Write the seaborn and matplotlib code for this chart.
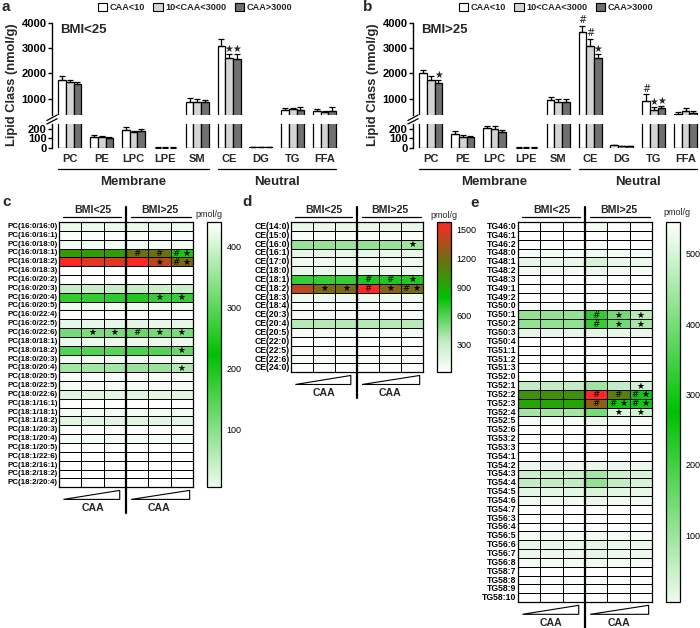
import numpy as np
import pandas as pd
import seaborn as sns
import matplotlib.pyplot as plt
import matplotlib.transforms as mtransforms
from matplotlib.colors import LinearSegmentedColormap, Normalize
from matplotlib.cm import ScalarMappable
from matplotlib.patches import Polygon

# ---- bar panels (a, b) ----
classes = ['PC', 'PE', 'LPC', 'LPE', 'SM', 'CE', 'DG', 'TG', 'FFA']
groups = ['CAA<10', '10<CAA<3000', 'CAA>3000']

a_low = [1730, 117, 190, 5, 880, 3090, 10, 550, 510]
a_mid = [1650, 117, 167, 5, 880, 2630, 10, 580, 450]
a_high = [1580, 100, 177, 5, 850, 2590, 10, 540, 490]
a_low_err = [160, 23, 33, 2, 130, 290, 3, 70, 80]
a_mid_err = [70, 10, 15, 2, 90, 130, 3, 60, 40]
a_high_err = [90, 10, 23, 2, 90, 170, 3, 120, 170]
a_marks = [(5, 1, '★'), (5, 2, '★')]

b_low = [2000, 150, 207, 5, 950, 3640, 27, 920, 395]
b_mid = [1740, 117, 200, 5, 860, 3090, 17, 550, 490]
b_high = [1630, 117, 163, 5, 880, 2630, 17, 620, 420]
b_low_err = [130, 23, 26, 2, 130, 260, 5, 260, 75]
b_mid_err = [160, 23, 33, 2, 140, 290, 3, 110, 130]
b_high_err = [110, 12, 20, 2, 120, 130, 3, 90, 80]
b_marks = [(0, 2, '★'), (5, 0, '#'), (5, 1, '#'), (5, 2, '★'),
           (7, 0, '#'), (7, 1, '★'), (7, 2, '★')]

# ---- heatmap panel c (PC species) ----
c_rows = ['PC(16:0/16:0)', 'PC(16:0/16:1)', 'PC(16:0/18:0)', 'PC(16:0/18:1)',
          'PC(16:0/18:2)', 'PC(16:0/18:3)', 'PC(16:0/20:2)', 'PC(16:0/20:3)',
          'PC(16:0/20:4)', 'PC(16:0/20:5)', 'PC(16:0/22:4)', 'PC(16:0/22:5)',
          'PC(16:0/22:6)', 'PC(18:0/18:1)', 'PC(18:0/18:2)', 'PC(18:0/20:3)',
          'PC(18:0/20:4)', 'PC(18:0/20:5)', 'PC(18:0/22:5)', 'PC(18:0/22:6)',
          'PC(18:1/16:1)', 'PC(18:1/18:1)', 'PC(18:1/18:2)', 'PC(18:1/20:3)',
          'PC(18:1/20:4)', 'PC(18:1/20:5)', 'PC(18:1/22:6)', 'PC(18:2/16:1)',
          'PC(18:2/18:2)', 'PC(18:2/20:4)']
c_vals = [
    [35, 35, 35, 35, 35, 30],
    [12, 12, 12, 12, 12, 12],
    [30, 30, 30, 30, 30, 28],
    [310, 310, 305, 375, 370, 235],
    [500, 475, 475, 500, 440, 385],
    [5, 5, 5, 5, 5, 5],
    [5, 5, 5, 5, 5, 5],
    [100, 100, 100, 100, 95, 95],
    [215, 215, 218, 228, 212, 210],
    [30, 30, 30, 35, 30, 30],
    [10, 10, 10, 10, 10, 10],
    [45, 45, 45, 50, 45, 45],
    [165, 160, 160, 175, 165, 160],
    [35, 35, 35, 35, 35, 35],
    [190, 190, 185, 195, 190, 175],
    [30, 30, 30, 30, 30, 30],
    [130, 130, 130, 135, 135, 120],
    [18, 18, 18, 18, 18, 18],
    [22, 22, 22, 22, 22, 22],
    [60, 55, 55, 60, 55, 55],
    [8, 8, 8, 8, 8, 8],
    [22, 22, 22, 22, 22, 22],
    [55, 55, 55, 55, 55, 50],
    [8, 8, 8, 8, 8, 8],
    [22, 22, 22, 22, 22, 22],
    [6, 6, 6, 6, 6, 6],
    [6, 6, 6, 6, 6, 6],
    [6, 6, 6, 6, 6, 6],
    [6, 6, 6, 6, 6, 6],
    [6, 6, 6, 6, 6, 6],
]
c_marks = [(3, 3, '#'), (3, 4, '#'), (3, 5, '# ★'), (4, 4, '★'), (4, 5, '# ★'),
           (8, 4, '★'), (8, 5, '★'), (12, 1, '★'), (12, 2, '★'), (12, 3, '#'),
           (12, 4, '★'), (12, 5, '★'), (14, 5, '★'), (16, 5, '★')]
c_ticks = [100, 200, 300, 400]

# ---- heatmap panel d (CE species) ----
d_rows = ['CE(14:0)', 'CE(15:0)', 'CE(16:0)', 'CE(16:1)', 'CE(17:0)', 'CE(18:0)',
          'CE(18:1)', 'CE(18:2)', 'CE(18:3)', 'CE(18:4)', 'CE(20:3)', 'CE(20:4)',
          'CE(20:5)', 'CE(22:0)', 'CE(22:5)', 'CE(22:6)', 'CE(24:0)']
d_vals = [
    [120, 120, 120, 120, 115, 115],
    [30, 30, 30, 30, 30, 30],
    [430, 430, 425, 440, 430, 420],
    [135, 135, 135, 135, 130, 130],
    [90, 90, 90, 90, 90, 90],
    [135, 135, 135, 135, 130, 130],
    [670, 670, 670, 720, 720, 715],
    [1390, 1215, 1215, 1570, 1260, 1200],
    [100, 100, 100, 100, 100, 100],
    [30, 30, 30, 30, 30, 30],
    [70, 70, 70, 70, 70, 70],
    [355, 355, 355, 360, 355, 350],
    [70, 70, 70, 70, 70, 70],
    [25, 25, 25, 25, 25, 25],
    [50, 50, 50, 50, 50, 50],
    [60, 60, 60, 60, 60, 60],
    [25, 25, 25, 25, 25, 25],
]
d_marks = [(2, 5, '★'), (6, 3, '#'), (6, 4, '#'), (6, 5, '★'), (7, 1, '★'),
           (7, 2, '★'), (7, 3, '#'), (7, 4, '★'), (7, 5, '# ★')]
d_ticks = [300, 600, 900, 1200, 1500]

# ---- heatmap panel e (TG species) ----
e_rows = ['TG46:0', 'TG46:1', 'TG46:2', 'TG48:0', 'TG48:1', 'TG48:2', 'TG48:3',
          'TG49:1', 'TG49:2', 'TG50:0', 'TG50:1', 'TG50:2', 'TG50:3', 'TG50:4',
          'TG51:1', 'TG51:2', 'TG51:3', 'TG52:0', 'TG52:1', 'TG52:2', 'TG52:3',
          'TG52:4', 'TG52:5', 'TG52:6', 'TG53:2', 'TG53:3', 'TG54:1', 'TG54:2',
          'TG54:3', 'TG54:4', 'TG54:5', 'TG54:6', 'TG54:7', 'TG56:3', 'TG56:4',
          'TG56:5', 'TG56:6', 'TG56:7', 'TG56:8', 'TG58:7', 'TG58:8', 'TG58:9',
          'TG58:10']
e_vals = [
    [8, 8, 8, 25, 10, 10],
    [6, 6, 6, 6, 6, 6],
    [8, 8, 8, 20, 8, 8],
    [25, 25, 25, 35, 25, 25],
    [55, 50, 50, 85, 50, 45],
    [30, 30, 30, 40, 30, 28],
    [8, 8, 8, 8, 8, 8],
    [8, 8, 8, 8, 8, 8],
    [10, 10, 10, 10, 10, 10],
    [25, 25, 25, 25, 22, 22],
    [170, 170, 170, 260, 200, 135],
    [170, 170, 170, 255, 200, 150],
    [55, 55, 55, 60, 55, 50],
    [8, 8, 8, 8, 8, 8],
    [8, 8, 8, 8, 8, 8],
    [8, 8, 8, 8, 8, 8],
    [10, 10, 10, 10, 10, 10],
    [12, 12, 12, 12, 12, 12],
    [125, 125, 125, 160, 125, 100],
    [390, 390, 390, 600, 420, 285],
    [350, 350, 350, 480, 285, 280],
    [155, 155, 155, 195, 75, 95],
    [25, 25, 25, 45, 25, 25],
    [8, 8, 8, 8, 8, 8],
    [8, 8, 8, 8, 8, 8],
    [8, 8, 8, 8, 8, 8],
    [10, 10, 10, 10, 10, 10],
    [40, 40, 40, 50, 40, 40],
    [110, 110, 110, 155, 110, 85],
    [125, 125, 125, 170, 125, 90],
    [60, 60, 60, 80, 60, 55],
    [35, 35, 35, 45, 35, 35],
    [8, 8, 8, 8, 8, 8],
    [8, 8, 8, 8, 8, 8],
    [10, 10, 10, 10, 10, 10],
    [28, 28, 28, 30, 25, 25],
    [55, 55, 55, 60, 50, 50],
    [40, 40, 40, 65, 40, 40],
    [22, 22, 22, 32, 22, 22],
    [10, 10, 10, 10, 10, 10],
    [16, 16, 16, 16, 16, 16],
    [10, 10, 10, 10, 10, 10],
    [8, 8, 8, 8, 8, 8],
]
e_marks = [(10, 3, '#'), (10, 4, '★'), (10, 5, '★'), (11, 3, '#'), (11, 4, '★'),
           (11, 5, '★'), (18, 5, '★'), (19, 3, '#'), (19, 4, '#'), (19, 5, '# ★'),
           (20, 3, '#'), (20, 4, '# ★'), (20, 5, '# ★'), (21, 4, '★'), (21, 5, '★')]
e_ticks = [100, 200, 300, 400, 500]

bar_colors = ['white', '#d4d4d4', '#707070']
cell_cmap = LinearSegmentedColormap.from_list(
    'cell', [(0, '#ffffff'), (0.2, '#c4ecc4'), (0.5, '#00c000'),
             (0.75, '#6e6e12'), (1, '#ff2626')])
# colorbars of c and e fade to white at both ends in the original
fade_cmap = LinearSegmentedColormap.from_list(
    'fade', [(0, '#eef9ee'), (0.5, '#00c000'), (1, '#ffffff')])

W, H = 700, 628
ROW = 8.84


def rect(x0, y0, x1, y1):
    return [x0 / W, 1 - y1 / H, (x1 - x0) / W, (y1 - y0) / H]


sns.set_theme(style='white')
plt.rcParams['font.family'] = ['Liberation Sans', 'DejaVu Sans']
STAR = ['DejaVu Sans']

fig = plt.figure(figsize=(7, 6.28), dpi=100)


def bar_panel(x0, means, errs, marks, title, letter):
    df = pd.DataFrame({'cls': classes * 3,
                       'grp': np.repeat(groups, len(classes)),
                       'val': np.concatenate(means)})
    top = fig.add_axes(rect(x0, 23, x0 + 286, 115))
    bot = fig.add_axes(rect(x0, 124, x0 + 286, 148))
    for ax in (top, bot):
        sns.barplot(data=df, x='cls', y='val', hue='grp', hue_order=groups,
                    palette=bar_colors, saturation=1, edgecolor='black',
                    linewidth=0.9, width=0.72, errorbar=None, ax=ax,
                    legend=(ax is top))
        bars = list(ax.containers)
        for k, cont in enumerate(bars):
            xs = [p.get_x() + p.get_width() / 2 for p in cont]
            hs = [p.get_height() for p in cont]
            ax.errorbar(xs, hs, yerr=[np.zeros(len(hs)), errs[k]], fmt='none',
                        ecolor='black', elinewidth=0.9, capsize=2, capthick=0.9)
        ax.set_xlim(-0.56, 8.42)
        ax.set_xlabel('')
        ax.set_ylabel('')
        for s in ['top', 'right', 'bottom']:
            ax.spines[s].set_visible(False)
        ax.spines['left'].set_color('black')
        ax.spines['left'].set_linewidth(1)
        ax.tick_params(axis='y', left=True, length=3, width=1, pad=1,
                       labelsize=8, colors='black')
        if ax is top:
            for ci, gi, txt in marks:
                p = bars[gi][ci]
                ax.text(p.get_x() + p.get_width() / 2,
                        p.get_height() + errs[gi][ci] + 15, txt,
                        ha='center', va='bottom', fontsize=7, family=STAR)
    top.set_ylim(350, 4000)
    top.set_yticks([1000, 2000, 3000, 4000])
    bot.set_ylim(0, 250)
    bot.set_yticks([0, 100, 200])
    for ax in (top, bot):
        for lab in ax.get_yticklabels():
            lab.set_fontweight('bold')
    top.tick_params(axis='x', bottom=False, labelbottom=False)
    bot.tick_params(axis='x', bottom=False, length=0, pad=4, labelsize=8)
    for lab in bot.get_xticklabels():
        lab.set_fontweight('bold')

    # axis break marks
    kw = dict(color='black', lw=0.9, clip_on=False)
    top.plot([-0.018, 0.018], [-0.06, 0.0], transform=top.transAxes, **kw)
    bot.plot([-0.018, 0.018], [1.0, 1.22], transform=bot.transAxes, **kw)

    leg = top.legend(ncol=3, loc='lower center', bbox_to_anchor=(0.5, 1.12),
                     frameon=False, fontsize=6.6, handlelength=1.0,
                     handleheight=0.9, handletextpad=0.3, columnspacing=0.9,
                     borderaxespad=0, borderpad=0)
    for h in leg.get_patches():
        h.set_edgecolor('black')
        h.set_linewidth(0.8)
    for t in leg.get_texts():
        t.set_fontweight('bold')

    top.text(0.03, 0.99, title, transform=top.transAxes, ha='left', va='top',
             fontsize=9.5, fontweight='bold')

    trans = mtransforms.blended_transform_factory(bot.transData, bot.transAxes)
    for xa, xb, name in [(-0.36, 4.36, 'Membrane'), (4.64, 8.36, 'Neutral')]:
        bot.plot([xa, xb], [-0.88, -0.88], transform=trans, **kw)
        bot.text((xa + xb) / 2, -1.42, name, transform=trans, ha='center',
                 va='center', fontsize=9.5, fontweight='bold')

    fig.text((x0 - 40) / W, 1 - 85 / H, 'Lipid Class (nmol/g)', rotation=90,
             ha='center', va='center', fontsize=9.3, fontweight='bold')
    fig.text((x0 - 50) / W, 1 - 7 / H, letter, ha='left', va='center',
             fontsize=11, fontweight='bold')


bar_panel(52, [a_low, a_mid, a_high], [a_low_err, a_mid_err, a_high_err],
          a_marks, 'BMI<25', 'a')
bar_panel(413, [b_low, b_mid, b_high], [b_low_err, b_mid_err, b_high_err],
          b_marks, 'BMI>25', 'b')


def heat_panel(x0, x1, rows, vals, vmin, vmax, marks, label_size,
               cb_x, cb_cmap, cb_lim, ticks, unit_x, bottom_ext):
    n = len(rows)
    y1 = 222 + n * ROW
    ax = fig.add_axes(rect(x0, 222, x1, y1))
    df = pd.DataFrame(vals, index=rows)
    sns.heatmap(df, ax=ax, cmap=cell_cmap, vmin=vmin, vmax=vmax, cbar=False,
                linewidths=0.5, linecolor='black', xticklabels=False,
                yticklabels=True)
    ax.tick_params(axis='y', length=0, pad=1, labelsize=label_size,
                   colors='black')
    for lab in ax.get_yticklabels():
        lab.set_fontweight('bold')
        lab.set_rotation(0)
    for s in ax.spines.values():
        s.set_visible(True)
        s.set_linewidth(0.9)
        s.set_color('black')
    for r, c, txt in marks:
        ax.text(c + 0.5, r + 0.55, txt, ha='center', va='center',
                fontsize=6.3, family=STAR, color='black')

    kw = dict(color='black', clip_on=False)
    ax.plot([3, 3], [-1.7, n + bottom_ext], lw=1.6, **kw)
    for cx, txt, xa, xb in [(1.5, 'BMI<25', 0.2, 2.77), (4.5, 'BMI>25', 3.23, 5.9)]:
        ax.plot([xa, xb], [-0.53, -0.53], lw=0.9, **kw)
        ax.text(cx, -0.75, txt, ha='center', va='bottom', fontsize=7.6,
                fontweight='bold')
        ax.add_patch(Polygon([(xa, n + 1.38), (xb - 0.05, n + 0.36),
                              (xb - 0.05, n + 1.38)], closed=True,
                             facecolor='white', edgecolor='black', lw=0.8,
                             clip_on=False))
        ax.text(cx, n + 2.4, 'CAA', ha='center', va='center', fontsize=7.6,
                fontweight='bold')

    cax = fig.add_axes(rect(cb_x, 222, cb_x + 14, y1))
    sm = ScalarMappable(norm=Normalize(*cb_lim), cmap=cb_cmap)
    cb = fig.colorbar(sm, cax=cax, ticks=ticks)
    cb.outline.set_linewidth(0.9)
    cb.outline.set_edgecolor('black')
    cax.tick_params(direction='in', length=2.5, width=0.8, left=True,
                    right=True, labelsize=6.5, pad=4, colors='black')
    cax.text(unit_x, 1.012, 'pmol/g', transform=cax.transAxes, ha='center',
             va='bottom', fontsize=6.5)


heat_panel(59, 193, c_rows, c_vals, 5, 500, c_marks, 5.7,
           207, fade_cmap, (5, 440), c_ticks, 0.15, 2.9)
heat_panel(291, 423, d_rows, d_vals, 10, 1580, d_marks, 6.2,
           437, cell_cmap, (10, 1580), d_ticks, 0.5, 2.9)
heat_panel(518, 652, e_rows, e_vals, 5, 600, e_marks, 6.2,
           666, fade_cmap, (5, 545), e_ticks, 0.75, 4.0)

fig.text(2 / W, 1 - 202 / H, 'c', ha='left', va='center', fontsize=11,
         fontweight='bold')
fig.text(242 / W, 1 - 202 / H, 'd', ha='left', va='center', fontsize=11,
         fontweight='bold')
fig.text(470 / W, 1 - 203 / H, 'e', ha='left', va='center', fontsize=11,
         fontweight='bold')

fig.savefig('out.png', dpi=100)
